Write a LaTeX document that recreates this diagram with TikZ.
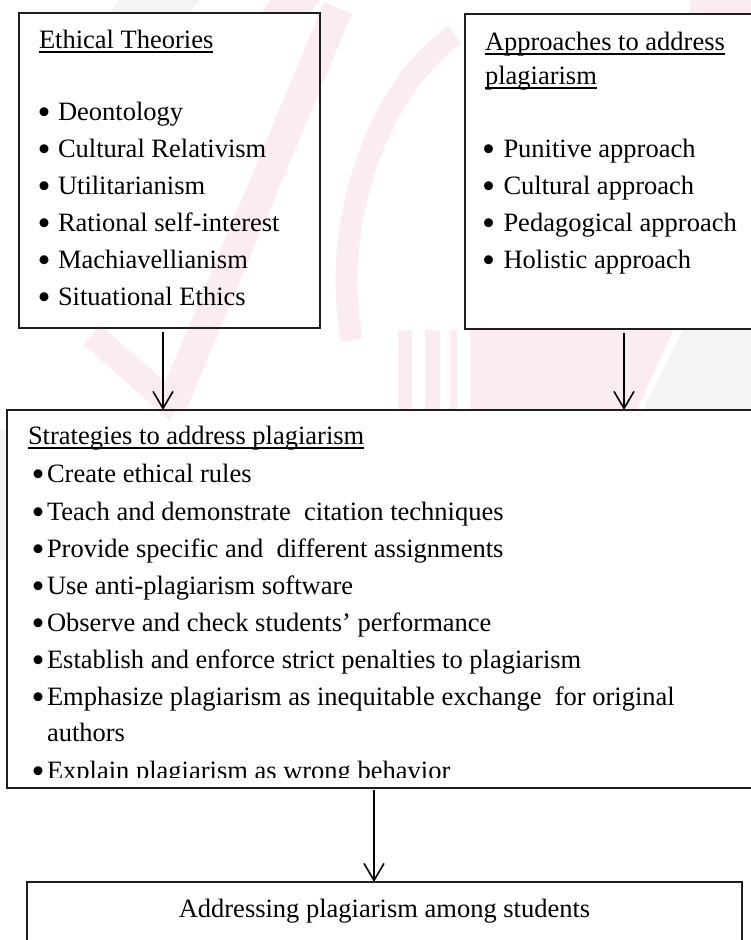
\documentclass[tikz,border=0pt]{standalone}
\usepackage{fontspec}
\usepackage{graphicx}
\setmainfont{Liberation Serif}
\usetikzlibrary{arrows.meta}
\newcommand\diafont{\fontsize{26.5pt}{37pt}\selectfont}
\newcommand\ulinetxt[1]{\setbox0\hbox{#1}\rlap{\rule[-4.6pt]{\wd0}{1.5pt}}\box0}
\newcommand\bigbul{\raisebox{-4pt}{\scalebox{1.4}{•}}}
\definecolor{wpink}{RGB}{250,236,239}
\definecolor{wgray}{RGB}{244,244,244}
\begin{document}
\begin{tikzpicture}[x=1pt,y=-1pt,
  box/.style={draw=black!88, line width=1.3pt, anchor=north west, inner sep=0pt, outer sep=0pt},
  txt/.style={anchor=base west, inner sep=0pt, outer sep=0pt, font=\diafont},
  ctxt/.style={anchor=base, inner sep=0pt, outer sep=0pt, font=\diafont},
  arr/.style={line width=1.6pt, -{Straight Barb[length=17pt,width=20pt,line width=1.6pt]}},
  wmp/.style={draw=wpink, line cap=butt},
  wmg/.style={draw=wgray, line cap=butt}]
\useasboundingbox (0,0) rectangle (751,940);
\clip (0,0) rectangle (751,940);
% faint watermark
\draw[wmp, line width=30pt] (338,8) -- (172,405);
\draw[wmp, line width=26pt] (92,335) -- (178,410);
\draw[wmp, line width=22pt] (455,35) .. controls (375,90) and (330,230) .. (352,340);
\fill[wpink] (470,330) -- (673,330) -- (637,410) -- (470,410) -- cycle;
\fill[wpink] (398,330) rectangle (412,410);
\fill[wpink] (425,330) rectangle (440,410);
\fill[wpink] (450,330) rectangle (457,410);
\fill[wgray] (683,330) -- (751,330) -- (751,410) -- (643,410) -- cycle;
\fill[wgray] (0,430) -- (7,430) -- (7,560) -- (0,560) -- cycle;
\fill[wpink] (270,0) -- (320,0) -- (310,12) -- (262,12) -- cycle;
\fill[wgray] (120,0) -- (200,0) -- (190,12) -- (110,12) -- cycle;
\fill[wpink] (690,0) -- (751,0) -- (751,14) -- (690,14) -- cycle;
% boxes
\node[box, minimum width=301pt, minimum height=315pt] (eth) at (19,13) {};
\node[box, minimum width=300pt, minimum height=315pt] (app) at (465,14) {};
\node[box, minimum width=760pt, minimum height=378pt] (str) at (7,410) {};
\node[box, minimum width=715pt, minimum height=80pt] (goal) at (27,882) {};
% ethical theories
\node[txt] (ethT) at (39,48) {\ulinetxt{Ethical Theories}};
\foreach \t [count=\i] in {Deontology, Cultural Relativism, Utilitarianism, Rational self-interest, Machiavellianism, Situational Ethics}{
  \node[ctxt] (ethB\i) at (44,{83+37*\i}) {\bigbul};
  \node[txt] (ethI\i) at (58,{83+37*\i}) {\t};
}
% approaches
\node[txt] (appT1) at (485,50) {\ulinetxt{Approaches to address}};
\node[txt] (appT2) at (485,84) {\ulinetxt{plagiarism}};
\foreach \t [count=\i] in {Punitive approach, Cultural approach, Pedagogical approach, Holistic approach}{
  \node[ctxt] (appB\i) at (488.5,{120+37*\i}) {\bigbul};
  \node[txt] (appI\i) at (503.5,{120+37*\i}) {\t};
}
% strategies
\node[txt] (strT) at (28,444) {\ulinetxt{Strategies to address plagiarism}};
\foreach \t/\y [count=\i] in {Create ethical rules/482, Teach and demonstrate\ \ citation techniques/520, Provide specific and\ \ different assignments/557, Use anti-plagiarism software/594, Observe and check students’ performance/631, Establish and enforce strict penalties to plagiarism/668, Emphasize plagiarism as inequitable exchange\ \ for original/705}{
  \node[ctxt] (strB\i) at (38,\y) {\bigbul};
  \node[txt] (strI\i) at (47,\y) {\t};
}
\node[txt] (strI8) at (47,741) {authors};
\begin{scope}
  \clip (0,740) rectangle (751,777);
  \node[ctxt] (strB9) at (38,779) {\bigbul};
  \node[txt] (strI9) at (47,779) {Explain plagiarism as wrong behavior};
\end{scope}
% goal
\node[ctxt] (goalT) at (384.5,917) {Addressing plagiarism among students};
% arrows
\coordinate (e1) at (163,332);
\coordinate (e2) at (624,333);
\coordinate (e3) at (374,790);
\draw[arr] (e1) -- (e1 |- str.north);
\draw[arr] (e2) -- (e2 |- str.north);
\draw[arr] (e3) -- (e3 |- goal.north);
\end{tikzpicture}
\end{document}
